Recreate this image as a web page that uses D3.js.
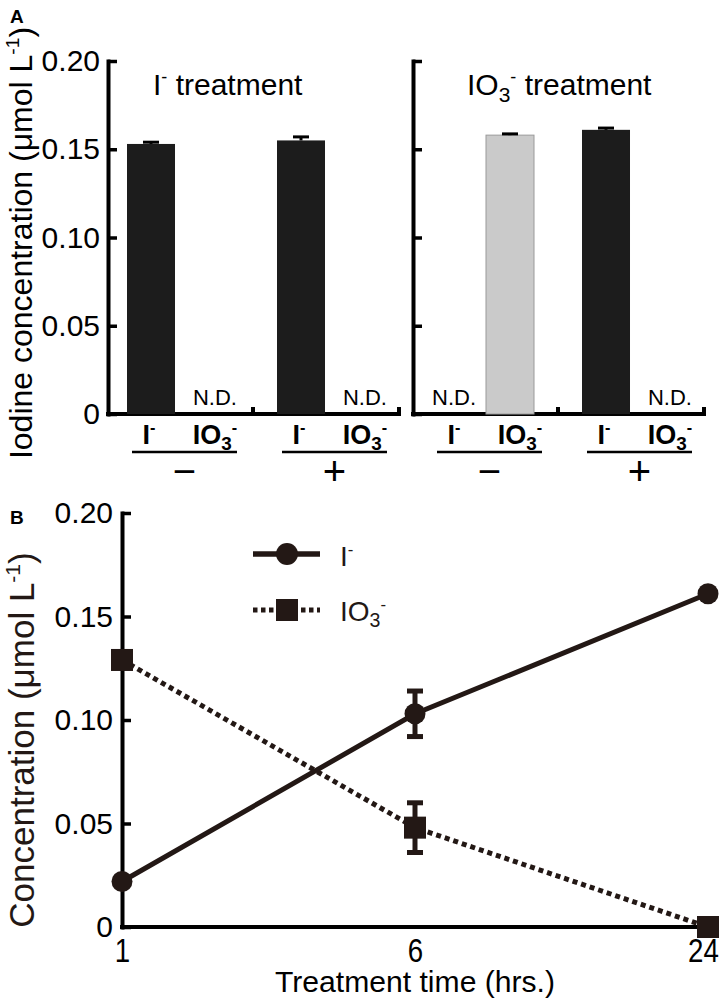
<!DOCTYPE html>
<html><head><meta charset="utf-8">
<script src="https://cdn.jsdelivr.net/npm/d3@7"></script>
<style>
body{margin:0;background:#fff}
text{font-family:"Liberation Sans",Arial,Helvetica,sans-serif;fill:#000}
</style>
</head><body>
<svg id="chart" width="720" height="1000"></svg>
<script>
// ---------- DATA ----------
// Panel A: bar order within each panel
const barGroups = ["−", "−", "+", "+"];
const barIons = ["I", "IO3", "I", "IO3"];
const groupNames = ["−", "+"];
const ionNames = ["I", "IO3"];
// I- treatment panel
const iTreatValues = [0.153, null, 0.155, null];
const iTreatErrors = [0.001, 0, 0.002, 0];
// IO3- treatment panel
const io3TreatValues = [null, 0.158, 0.161, null];
const io3TreatErrors = [0, 0.0007, 0.001, 0];
const io3TreatShade = ["dark", "light", "dark", "dark"];
const yTicksA = [0, 0.05, 0.10, 0.15, 0.20];
const yTickLabelsA = ["0", "0.05", "0.10", "0.15", "0.20"];

// Panel B
const times = ["1", "6", "24"];
const iodideConc = [0.022, 0.103, 0.161];
const iodideErr = [0, 0.011, 0];
const iodateConc = [0.129, 0.048, 0.0];
const iodateErr = [0, 0.012, 0];
const yTicksB = [0, 0.05, 0.10, 0.15, 0.20];
const yTickLabelsB = ["0", "0.05", "0.10", "0.15", "0.20"];

// ---------- HELPERS ----------
const svg = d3.select("#chart");
const INK = "#231815";
const BAR = "#1c1c1c";

function rich(textSel, tokens, size, subScale) {
  let cur = 0;
  tokens.forEach(([s, k]) => {
    const target = k === 0 ? 0 : (k === 1 ? size * 0.22 : -size * 0.40);
    const fs = k === 0 ? size : (k === 1 ? size * (subScale || 0.62) : size * 0.6);
    textSel.append("tspan")
      .attr("dy", target - cur)
      .attr("font-size", fs)
      .text(s);
    cur = target;
  });
  return textSel;
}
const ionTokens = {
  I: [["I", 0], ["-", -1]],
  IO3: [["IO", 0], ["3", 1], ["-", -1]]
};

// ---------- PANEL A ----------
const yA = d3.scaleLinear().domain([0, 0.2]).range([414, 61]);

svg.append("text").attr("x", 10).attr("y", 23)
  .attr("font-weight", "bold").attr("font-size", 19).text("A");

rich(svg.append("text")
  .attr("transform", "translate(32,243) rotate(-90)")
  .attr("text-anchor", "middle"),
  [["Iodine concentration (μmol L", 0], ["-1", -1], [")", 0]], 32);

const panels = [
  { x0: 108, values: iTreatValues, errors: iTreatErrors, shade: ["dark","dark","dark","dark"],
    title: [["I", 0], ["-", -1], ["\u00a0treatment", 0]], titleX: 153, labels: true },
  { x0: 413, values: io3TreatValues, errors: io3TreatErrors, shade: io3TreatShade,
    title: [["IO", 0], ["3", 1], ["-", -1], ["\u00a0treatment", 0]], titleX: 467, labels: false }
];

panels.forEach(p => {
  const g = svg.append("g");
  const outer = d3.scaleBand().domain(groupNames)
    .range([p.x0 + 24, p.x0 + 279]).paddingInner(0.3).paddingOuter(0);
  const inner = d3.scaleBand().domain(ionNames)
    .range([-5, 97]).paddingInner(0.111).paddingOuter(0);

  // y axis
  const ax = g.append("g").attr("transform", `translate(${p.x0},0)`)
    .call(d3.axisLeft(yA).tickValues(yTicksA)
      .tickSizeInner(-9).tickSizeOuter(0).tickPadding(8)
      .tickFormat((d, i) => p.labels ? yTickLabelsA[i] : ""));
  ax.select(".domain").attr("stroke", "#000").attr("stroke-width", 4).attr("stroke-linecap", "square");
  ax.selectAll(".tick line").attr("stroke", "#000").attr("stroke-width", 3.5);
  ax.selectAll(".tick text").attr("font-size", 30).attr("fill", "#000")
    .attr("font-family", "Liberation Sans, Arial, sans-serif");

  // x axis baseline
  const base = yA(0);
  g.append("line").attr("x1", p.x0 - 2).attr("x2", p.x0 + 293)
    .attr("y1", base).attr("y2", base).attr("stroke", "#000").attr("stroke-width", 4);
  [145, 291].forEach(dx => {
    g.append("line").attr("x1", p.x0 + dx).attr("x2", p.x0 + dx)
      .attr("y1", base).attr("y2", base - 7).attr("stroke", "#000").attr("stroke-width", 4);
  });

  // title
  rich(g.append("text").attr("x", p.titleX).attr("y", 95), p.title, 30, 0.7);

  // bars
  p.values.forEach((v, i) => {
    const bx = outer(barGroups[i]) + inner(barIons[i]);
    const bw = inner.bandwidth();
    const cx = bx + bw / 2;
    const labelX = cx + (barIons[i] === "IO3" ? 10 : -2);
    if (v === null) {
      g.append("text").attr("x", labelX).attr("y", 405)
        .attr("text-anchor", "middle").attr("font-size", 22).text("N.D.");
    } else {
      const light = p.shade[i] === "light";
      g.append("rect").attr("x", bx).attr("width", bw)
        .attr("y", yA(v)).attr("height", yA(0) - yA(v))
        .attr("fill", light ? "#cacaca" : BAR)
        .attr("stroke", light ? "#9a9a9a" : "none").attr("stroke-width", 1);
      const e = p.errors[i];
      if (e > 0) {
        g.append("line").attr("x1", cx).attr("x2", cx)
          .attr("y1", yA(v)).attr("y2", yA(v + e)).attr("stroke", "#000").attr("stroke-width", 3);
        g.append("line").attr("x1", cx - 8).attr("x2", cx + 8)
          .attr("y1", yA(v + e)).attr("y2", yA(v + e)).attr("stroke", "#000").attr("stroke-width", 3);
      }
    }
    // category label
    rich(g.append("text").attr("x", labelX).attr("y", 444)
      .attr("text-anchor", "middle").attr("font-weight", "bold"), ionTokens[barIons[i]], 27, 0.7);
  });

  // group underline and sign
  groupNames.forEach(gn => {
    const gx = outer(gn), gw = outer.bandwidth();
    g.append("line").attr("x1", gx).attr("x2", gx + gw).attr("y1", 452).attr("y2", 452)
      .attr("stroke", "#000").attr("stroke-width", 2.5);
    g.append("text").attr("x", gx + gw / 2).attr("y", 485)
      .attr("text-anchor", "middle").attr("font-size", 40).text(gn);
  });
});

// ---------- PANEL B ----------
const xB = d3.scalePoint().domain(times).range([122, 708]);
const yB = d3.scaleLinear().domain([0, 0.2]).range([927, 513]);

svg.append("text").attr("x", 10).attr("y", 524)
  .attr("font-weight", "bold").attr("font-size", 19).text("B");

rich(svg.append("text")
  .attr("transform", "translate(34,740) rotate(-90)")
  .attr("text-anchor", "middle").style("fill", INK),
  [["Concentration (μmol L", 0], ["-1", -1], [")", 0]], 35);

const gB = svg.append("g");
const axB = gB.append("g").attr("transform", "translate(122,0)")
  .call(d3.axisLeft(yB).tickValues(yTicksB).tickSizeInner(-9).tickSizeOuter(0).tickPadding(9)
    .tickFormat((d, i) => yTickLabelsB[i]));
axB.select(".domain").attr("stroke", "#000").attr("stroke-width", 4).attr("stroke-linecap", "square");
axB.selectAll(".tick line").attr("stroke", "#000").attr("stroke-width", 3.5);
axB.selectAll(".tick text").attr("font-size", 30).attr("fill", "#000")
  .attr("font-family", "Liberation Sans, Arial, sans-serif");

const axX = gB.append("g").attr("transform", "translate(0,927)")
  .call(d3.axisBottom(xB).tickSize(0).tickPadding(14));
axX.select(".domain").attr("d", "M120,0H710").attr("stroke", "#000").attr("stroke-width", 4);
axX.selectAll(".tick text").attr("font-size", 33).attr("fill", "#000")
  .attr("y", 35).attr("dy", 0)
  .attr("x", (d, i) => i === times.length - 1 ? -6 : 0)
  .attr("transform", "scale(0.84,1)");

gB.append("text").attr("x", 415).attr("y", 992).attr("text-anchor", "middle")
  .attr("font-size", 30).attr("textLength", 280).attr("lengthAdjust", "spacingAndGlyphs")
  .text("Treatment time (hrs.)");

const line = d3.line().x((d, i) => xB(times[i])).y(d => yB(d));

function errorBars(vals, errs) {
  vals.forEach((v, i) => {
    const e = errs[i];
    if (!e) return;
    const x = xB(times[i]);
    gB.append("line").attr("x1", x).attr("x2", x).attr("y1", yB(v - e)).attr("y2", yB(v + e))
      .attr("stroke", INK).attr("stroke-width", 5);
    [v - e, v + e].forEach(c => gB.append("line").attr("x1", x - 8).attr("x2", x + 8)
      .attr("y1", yB(c)).attr("y2", yB(c)).attr("stroke", INK).attr("stroke-width", 5));
  });
}

// iodate (dotted, squares)
gB.append("path").datum(iodateConc).attr("d", line).attr("fill", "none")
  .attr("stroke", INK).attr("stroke-width", 5).attr("stroke-dasharray", "5,4");
errorBars(iodateConc, iodateErr);
gB.selectAll(".sq").data(iodateConc).enter().append("rect")
  .attr("x", (d, i) => xB(times[i]) - 11).attr("y", d => yB(d) - 11)
  .attr("width", 22).attr("height", 22).attr("fill", INK);

// iodide (solid, circles)
gB.append("path").datum(iodideConc).attr("d", line).attr("fill", "none")
  .attr("stroke", INK).attr("stroke-width", 5);
errorBars(iodideConc, iodideErr);
gB.selectAll(".ci").data(iodideConc).enter().append("circle")
  .attr("cx", (d, i) => xB(times[i])).attr("cy", d => yB(d)).attr("r", 10.5).attr("fill", INK);

// legend
const lg = gB.append("g");
lg.append("line").attr("x1", 253).attr("x2", 320).attr("y1", 554).attr("y2", 554)
  .attr("stroke", INK).attr("stroke-width", 5.5);
lg.append("circle").attr("cx", 287).attr("cy", 554).attr("r", 11).attr("fill", INK);
rich(lg.append("text").attr("x", 340).attr("y", 566).style("fill", INK), ionTokens.I, 28);
lg.append("line").attr("x1", 253).attr("x2", 320).attr("y1", 610).attr("y2", 610)
  .attr("stroke", INK).attr("stroke-width", 5).attr("stroke-dasharray", "4.5,3.5");
lg.append("rect").attr("x", 276).attr("y", 599).attr("width", 22).attr("height", 22).attr("fill", INK);
rich(lg.append("text").attr("x", 340).attr("y", 621).style("fill", INK), ionTokens.IO3, 28, 0.7);
</script>
</body></html>
